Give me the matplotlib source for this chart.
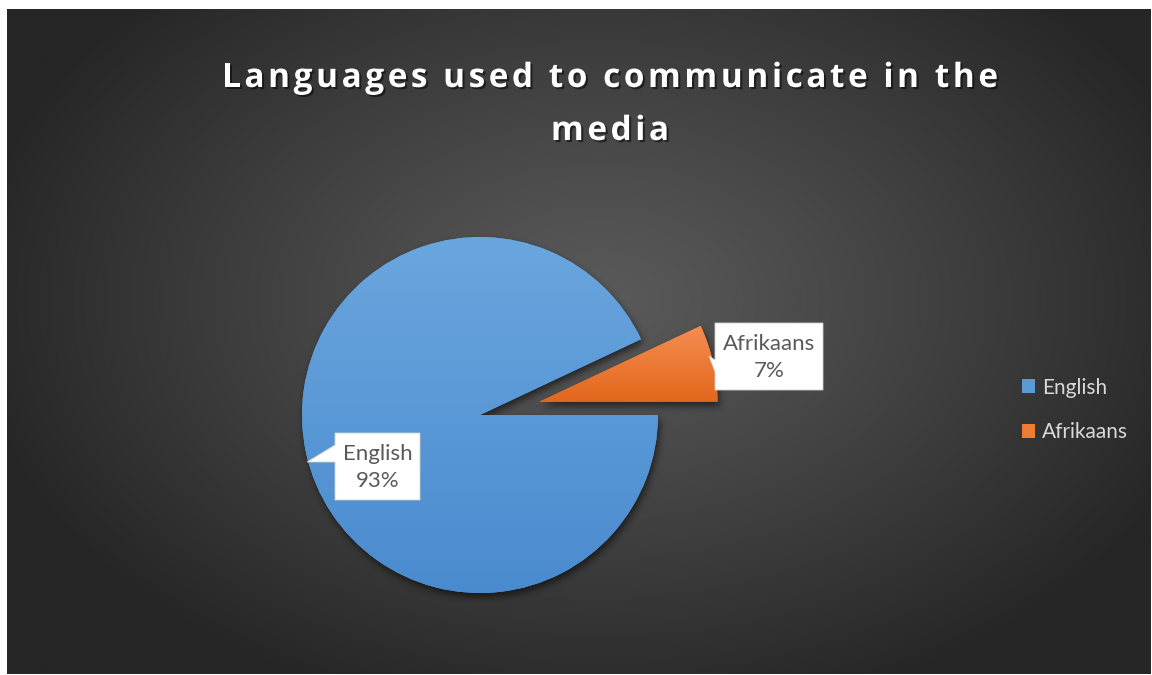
import numpy as np
import matplotlib
matplotlib.use("Agg")
import matplotlib.pyplot as plt
from matplotlib.patches import Patch, Polygon
from matplotlib.font_manager import FontProperties
from matplotlib.colors import to_rgb
import matplotlib.patheffects as pe

# ---- data ----
languages = ["English", "Afrikaans"]
shares = [93, 7]
colors = ["#5b9bd5", "#ed7d31"]
grad_top = ["#6aa6de", "#f58d52"]
grad_bottom = ["#4a8bcf", "#e2671b"]
title_lines = ["Languages used to communicate in the", "media"]

W, H = 1152, 675
fig = plt.figure(figsize=(W / 100, H / 100), dpi=100, facecolor="white")
ax = fig.add_axes([0, 0, 1, 1])


def Y(y):
    """Convert a top-down pixel row to the axes' bottom-up coordinate."""
    return H - y


# ---- dark radial-gradient panel ----
px0, px1, py0, py1 = 7, 1151, 9, 674
gx, gy = np.meshgrid(np.linspace(px0, px1, 600), np.linspace(py0, py1, 350))
d = np.sqrt(((gx - 600) / 640) ** 2 + ((gy - 300) / 430) ** 2)
d = np.clip(d, 0, 1) ** 1.1
c0 = np.array(to_rgb("#5a5a5a"))
c1 = np.array(to_rgb("#262626"))
bg = c0 + (c1 - c0) * d[..., None]
ax.imshow(bg, extent=[px0, px1, Y(py1), Y(py0)], origin="upper",
          zorder=0, interpolation="bilinear", aspect="auto")

# ---- pie ----
cx, cy, R = 480, Y(415), 178
wedges, _ = ax.pie(shares, explode=[0, 61], startangle=0, counterclock=False,
                   radius=R, center=(cx, cy), frame=True, colors=colors,
                   wedgeprops=dict(linewidth=0, zorder=2))

# soft drop shadow under the slices
xs = np.arange(W) + 0.5
ys = H - (np.arange(H) + 0.5)
PX, PY = np.meshgrid(xs, ys)
pts = np.column_stack([PX.ravel(), PY.ravel()])
mask = np.zeros(PX.size)
for w in wedges:
    path = w.get_patch_transform().transform_path(w.get_path())
    mask = np.maximum(mask, path.contains_points(pts).astype(float))
mask = mask.reshape(PX.shape)


def blur1d(a, r, axis):
    k = 2 * r + 1
    pad = [(0, 0), (0, 0)]
    pad[axis] = (r + 1, r)
    p = np.pad(a, pad, mode="edge")
    c = np.cumsum(p, axis=axis)
    if axis == 0:
        return (c[k:] - c[:-k]) / k
    return (c[:, k:] - c[:, :-k]) / k


sh = np.roll(np.roll(mask, 4, axis=0), 2, axis=1)
for _ in range(3):
    sh = blur1d(sh, 3, 0)
    sh = blur1d(sh, 3, 1)
shadow = np.zeros((H, W, 4))
shadow[..., 3] = sh * 0.55
ax.imshow(shadow, extent=[0, W, 0, H], origin="upper", zorder=1,
          interpolation="bilinear", aspect="auto")

# vertical gradient fill clipped to each slice
for w, top, bot in zip(wedges, grad_top, grad_bottom):
    bb = w.get_patch_transform().transform_path(w.get_path()).get_extents()
    t = np.linspace(0, 1, 256)[:, None, None]
    g = np.array(to_rgb(top)) * (1 - t) + np.array(to_rgb(bot)) * t
    im = ax.imshow(g, extent=[bb.x0, bb.x1, bb.y0, bb.y1], origin="upper",
                   zorder=3, interpolation="bilinear", aspect="auto")
    im.set_clip_path(w)

# ---- data callouts ----
total = sum(shares)
callouts = [
    # box (left, top, right, bottom) and pointer (top, tip x, tip y, bottom)
    dict(box=(335, 433, 420, 500), ptr=(445, 307, 462, 462)),
    dict(box=(715, 323, 823, 390), ptr=(360, 709, 356, 372)),
]
label_font = dict(family="Lato", size=16, color="#595959")
for name, val, co in zip(languages, shares, callouts):
    l, t, r, b = co["box"]
    p0, tx, ty, p1 = co["ptr"]
    verts = [(l, t), (r, t), (r, b), (l, b), (l, p1), (tx, ty), (l, p0)]
    ax.add_patch(Polygon([(x, Y(y)) for x, y in verts], closed=True,
                         facecolor="white", edgecolor="#d0d0d0",
                         linewidth=0.6, zorder=5))
    ax.text((l + r) / 2, Y((t + b) / 2 + 1), f"{name}\n{val / total * 100:.0f}%",
            ha="center", va="center", multialignment="center",
            linespacing=1.45, zorder=6, **label_font)

# ---- title with letter spacing ----
fp = FontProperties(family="Open Sans", weight="bold", size=24)
renderer = fig.canvas.get_renderer()


def twidth(s):
    return renderer.get_text_width_height_descent(s, fp, ismath=False)[0]


base = twidth("HH")
advances = [[twidth("H" + ch + "H") - base for ch in line] for line in title_lines]
line1_width = 776
spacing = (line1_width - sum(advances[0])) / (len(title_lines[0]) - 1)
title_cx = 610
baselines = [87, 140]
shadow_fx = [pe.withSimplePatchShadow(offset=(1.5, -1.5), shadow_rgbFace="black",
                                      alpha=0.5)]
for line, adv, base_y in zip(title_lines, advances, baselines):
    width = sum(adv) + spacing * (len(line) - 1)
    x = title_cx - width / 2
    for ch, a in zip(line, adv):
        if ch != " ":
            ax.text(x, Y(base_y), ch, fontproperties=fp, color="white",
                    ha="left", va="baseline", zorder=7, path_effects=shadow_fx)
        x += a + spacing

# ---- legend ----
handles = [Patch(facecolor=c, edgecolor="none") for c in colors]
ax.legend(handles, languages, loc="center left",
          bbox_to_anchor=(1022 / W, Y(410) / H), frameon=False,
          prop=dict(family="Lato", size=15), labelcolor="#d9d9d9",
          handlelength=0.62, handleheight=0.62, handletextpad=0.35,
          labelspacing=1.2, borderpad=0, borderaxespad=0)

ax.set_xlim(0, W)
ax.set_ylim(0, H)
ax.axis("off")

fig.savefig("out.png", dpi=100, facecolor="white")
